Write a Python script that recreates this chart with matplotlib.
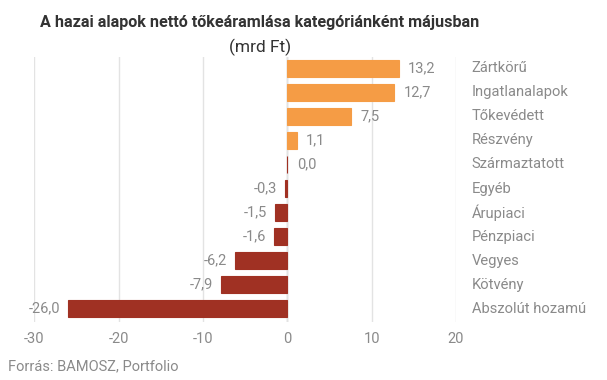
import matplotlib.pyplot as plt
from matplotlib.transforms import blended_transform_factory

plt.rcParams["font.family"] = ["Roboto", "DejaVu Sans"]

categories = ["Zártkörű", "Ingatlanalapok", "Tőkevédett", "Részvény", "Származtatott",
              "Egyéb", "Árupiaci", "Pénzpiaci", "Vegyes", "Kötvény", "Abszolút hozamú"]
values = [13.2, 12.7, 7.5, 1.1, 0.0, -0.3, -1.5, -1.6, -6.2, -7.9, -26.0]
xticks = [-30, -20, -10, 0, 10, 20]

orange = "#F59C45"
darkred = "#A03123"
grey = "#8a8a8a"

fig = plt.figure(figsize=(6.07, 3.8), dpi=100)
ax = fig.add_axes([0.0565, 0.1526, 0.6948, 0.6974])

y = list(range(len(categories)))
colors = [orange if v > 0 else darkred for v in values]
ax.barh(y, values, height=0.69, color=colors, edgecolor=colors, linewidth=0.8, zorder=3)
ax.set_ylim(10.55, -0.47)
ax.set_xlim(-30, 20)
ax.set_xticks(xticks)
ax.set_xticklabels([str(t) for t in xticks], color=grey, fontsize=10.5)
ax.set_yticks([])
ax.tick_params(axis="x", length=0, pad=7)
ax.grid(axis="x", color="#e3e3e3", linewidth=1, zorder=0)
for s in ax.spines.values():
    s.set_visible(False)
ax.axvline(0, color="#d0d0d0", linewidth=1, zorder=1)

for i, v in enumerate(values):
    txt = f"{v:.1f}".replace(".", ",")
    if v >= 0:
        ax.text(v + 1.12, i, txt, ha="left", va="center", color=grey, fontsize=10.5)
    else:
        ax.text(v - 0.95, i, txt, ha="right", va="center", color=grey, fontsize=10.5)

trans = blended_transform_factory(ax.transAxes, ax.transData)
for i, c in enumerate(categories):
    ax.text(1.037, i, c, transform=trans, ha="left", va="center", color=grey, fontsize=10.6)

fig.text(0.428, 0.942, "A hazai alapok nettó tőkeáramlása kategóriánként májusban",
         ha="center", va="center", fontsize=11.6, fontweight="bold", color="#333333")
fig.text(0.428, 0.876, "(mrd Ft)", ha="center", va="center", fontsize=12.5, color="#333333")
fig.text(0.013, 0.035, "Forrás: BAMOSZ, Portfolio", ha="left", va="center", fontsize=10.5, color=grey)

fig.savefig("out.png", dpi=100)
